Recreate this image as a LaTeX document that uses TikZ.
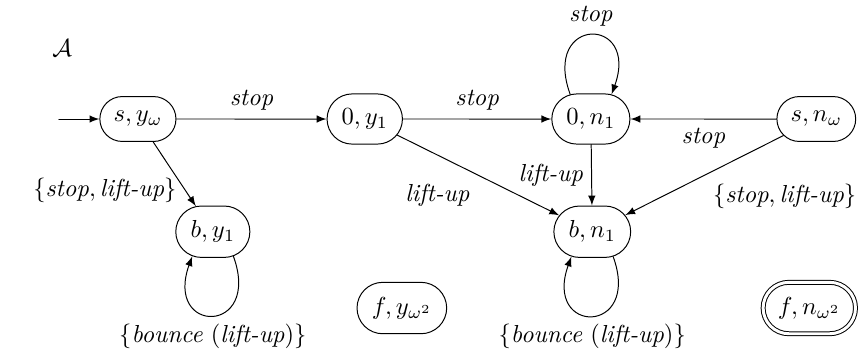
\documentclass[tikz,border=0pt]{standalone}
\usetikzlibrary{shapes.misc}
\begin{document}
\begin{tikzpicture}[line join=round,line cap=round,>=latex,
	st/.style={rounded rectangle,draw,inner ysep=6pt,inner xsep=5pt},
	acc/.style={st,double,double distance=1.2pt}]
	\useasboundingbox (0,0) rectangle (12.27,5.14);
	\node at (0.89,4.46) {$\mathcal{A}$};
	% states
	\foreach \x/\y/\n/\t in {1.97/3.44/syw/{s,y_\omega},5.21/3.44/oyo/{0,y_1},8.44/3.44/ono/{0,n_1},11.66/3.44/snw/{s,n_\omega},3.04/1.83/byo/{b,y_1},8.46/1.83/bno/{b,n_1},5.74/0.74/fyw/{f,y_{\omega^2}}}
		\node[st] (\n) at (\x,\y) {$\t$};
	\node[acc] (fnw) at (11.56,0.74) {$f,n_{\omega^2}$};
	\coordinate (init) at (0.84,3.44);
	% transitions
	\draw[->] (init)--(syw);
	\draw[->] (syw)--(oyo) node[midway,above] {\textit{stop}};
	\draw[->] (oyo)--(ono) node[midway,above] {\textit{stop}};
	\draw[->] (snw)--(ono) node[midway,below] {\textit{stop}};
	\draw[->] (syw)--(byo) node[pos=0.75,left] {$\{\textit{stop}, \textit{lift-up}\}$};
	\draw[->] (oyo)--(bno) node[midway,below left] {\textit{lift-up}};
	\draw[->] (ono)--(bno) node[midway,left] {\textit{lift-up}};
	\draw[->] (snw)--(bno) node[midway,below right] {$\{\textit{stop}, \textit{lift-up}\}$};
	% loops
	\draw[->] (ono.130) .. controls +(110:1.2) and +(70:1.2) .. (ono.50) node[pos=0.5,above] {\textit{stop}};
	\foreach \n in {byo,bno}
		\draw[->] (\n.-50) .. controls +(-70:1.2) and +(-110:1.2) .. (\n.-130) node[pos=0.5,below] {$\{\textit{bounce}\ (\textit{lift-up})\}$};
\end{tikzpicture}
\end{document}
